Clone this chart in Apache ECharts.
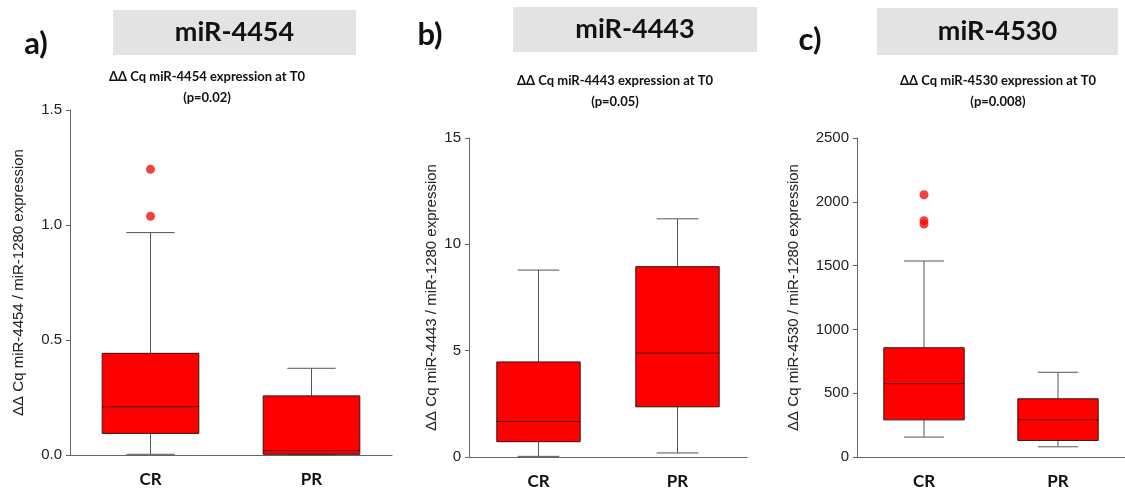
<!DOCTYPE html>
<html>
<head>
<meta charset="utf-8">
<script src="https://cdn.jsdelivr.net/npm/echarts@6/dist/echarts.min.js"></script>
<style>
  html, body { margin: 0; padding: 0; background: #fff; }
  #chart { width: 1125px; height: 490px; }
</style>
</head>
<body>
<div id="chart"></div>
<script>
const categories = ['CR', 'PR']
const panelLetters = ['a)', 'b)', 'c)']
const panelTitles = ['miR-4454', 'miR-4443', 'miR-4530']
const subTitles = [
  'ΔΔ Cq miR-4454 expression at T0\n(p=0.02)',
  'ΔΔ Cq miR-4443 expression at T0\n(p=0.05)',
  'ΔΔ Cq miR-4530 expression at T0\n(p=0.008)',
]
const yNames = [
  'ΔΔ Cq miR-4454 / miR-1280 expression',
  'ΔΔ Cq miR-4443 / miR-1280 expression',
  'ΔΔ Cq miR-4530 / miR-1280 expression',
]
// [min, Q1, median, Q3, max] for CR and PR
const mir4454Box = [
  [0.003, 0.094, 0.21, 0.442, 0.967],
  [0.0, 0.003, 0.019, 0.257, 0.377],
]
const mir4454Outliers = [[0, 1.242], [0, 1.038]]
const mir4443Box = [
  [0.03, 0.72, 1.67, 4.47, 8.79],
  [0.19, 2.36, 4.89, 8.95, 11.2],
]
const mir4443Outliers = []
const mir4530Box = [
  [156, 291, 575, 856, 1536],
  [80, 130, 291, 456, 664],
]
const mir4530Outliers = [[0, 2055], [0, 1852], [0, 1826]]
const yMax = [1.5, 15, 2500]
const yStep = [0.5, 5, 500]

const boxes = [mir4454Box, mir4443Box, mir4530Box]
const outliers = [mir4454Outliers, mir4443Outliers, mir4530Outliers]

const grids = [
  { left: 70, top: 110, width: 322, height: 345 },
  { left: 469, top: 138, width: 278, height: 320 },
  { left: 857, top: 138, width: 272, height: 320 },
]

function renderBox(params, api) {
  const xi = api.value(0)
  const pts = [1, 2, 3, 4, 5].map((i) => api.coord([xi, api.value(i)]))
  const band = api.size([1, 0])[0]
  const bw = band * 0.6
  const cw = bw / 2
  const cx = pts[0][0]
  const [pMin, pQ1, pMed, pQ3, pMax] = pts.map((p) => p[1])
  const whisker = { stroke: '#555', lineWidth: 1 }
  return {
    type: 'group',
    children: [
      { type: 'line', shape: { x1: cx, y1: pQ3, x2: cx, y2: pMax }, style: whisker },
      { type: 'line', shape: { x1: cx, y1: pQ1, x2: cx, y2: pMin }, style: whisker },
      { type: 'line', shape: { x1: cx - cw / 2, y1: pMax, x2: cx + cw / 2, y2: pMax }, style: whisker },
      { type: 'line', shape: { x1: cx - cw / 2, y1: pMin, x2: cx + cw / 2, y2: pMin }, style: whisker },
      {
        type: 'rect',
        shape: { x: cx - bw / 2, y: pQ3, width: bw, height: pQ1 - pQ3 },
        style: { fill: '#ff0000', stroke: '#3a1010', lineWidth: 1 },
      },
      { type: 'line', shape: { x1: cx - bw / 2, y1: pMed, x2: cx + bw / 2, y2: pMed }, style: { stroke: '#4a0000', lineWidth: 1 } },
    ],
  }
}

const myChart = echarts.init(document.getElementById('chart'))

const headerBoxes = [
  { x: 113, y: 10, w: 243, h: 45 },
  { x: 513, y: 7, w: 244, h: 45 },
  { x: 877, y: 8, w: 241, h: 47 },
]
const letterPos = [[36, 44], [430, 35], [810, 40]]
const subPos = [[207, 66], [615, 70], [998, 70]]

const graphic = []
headerBoxes.forEach((b, i) => {
  graphic.push({
    type: 'rect',
    shape: { x: b.x, y: b.y, width: b.w, height: b.h },
    style: { fill: '#e3e3e3' },
    silent: true,
  })
  graphic.push({
    type: 'text',
    x: b.x + b.w / 2,
    y: b.y + b.h / 2,
    style: {
      text: panelTitles[i],
      font: 'bold 27px Lato',
      fill: '#111',
      align: 'center',
      verticalAlign: 'middle',
    },
  })
  graphic.push({
    type: 'text',
    x: letterPos[i][0],
    y: letterPos[i][1],
    style: {
      text: panelLetters[i],
      font: 'bold 31px Lato',
      fill: '#111',
      align: 'center',
      verticalAlign: 'middle',
    },
  })
  graphic.push({
    type: 'text',
    x: subPos[i][0],
    y: subPos[i][1],
    style: {
      text: subTitles[i],
      font: 'bold 13px Lato',
      lineHeight: 21,
      fill: '#111',
      align: 'center',
      verticalAlign: 'top',
    },
  })
})

const option = {
  animation: false,
  graphic: graphic,
  grid: grids,
  xAxis: grids.map((g, i) => ({
    type: 'category',
    gridIndex: i,
    data: categories,
    axisLine: { lineStyle: { color: '#666', width: 1 } },
    axisTick: { alignWithLabel: true, length: 5, lineStyle: { color: '#666' } },
    axisLabel: { margin: 16, fontFamily: 'Lato', fontWeight: 'bold', fontSize: 17, color: '#111' },
    splitLine: { show: false },
  })),
  yAxis: grids.map((g, i) => ({
    type: 'value',
    gridIndex: i,
    min: 0,
    max: yMax[i],
    interval: yStep[i],
    name: yNames[i],
    nameLocation: 'middle',
    nameRotate: 90,
    nameGap: [44, 30, 56][i],
    nameTextStyle: { fontFamily: 'Liberation Sans', fontSize: 15, color: '#222' },
    axisLine: { show: true, lineStyle: { color: '#666', width: 1 } },
    axisTick: { show: true, length: 4, lineStyle: { color: '#666' } },
    axisLabel: {
      margin: 8,
      fontFamily: 'Liberation Sans',
      fontSize: 15,
      color: '#222',
      formatter: (v) => (i === 0 ? v.toFixed(1) : String(v)),
    },
    splitLine: { show: false },
  })),
  series: [
    ...boxes.map((b, i) => ({
      type: 'custom',
      xAxisIndex: i,
      yAxisIndex: i,
      renderItem: renderBox,
      encode: { x: 0, y: [1, 2, 3, 4, 5] },
      data: b.map((row, k) => [k, ...row]),
      z: 2,
    })),
    ...outliers.map((o, i) => ({
      type: 'scatter',
      xAxisIndex: i,
      yAxisIndex: i,
      symbolSize: 9,
      itemStyle: { color: '#ee1111' },
      data: o,
      z: 3,
    })),
  ],
}

myChart.setOption(option)
</script>
</body>
</html>
